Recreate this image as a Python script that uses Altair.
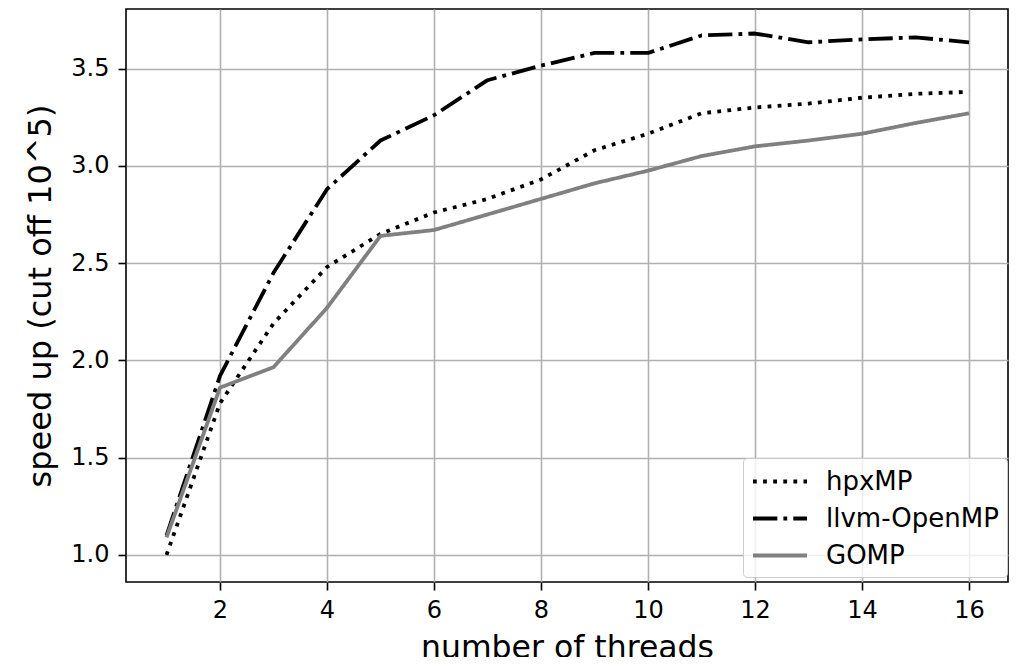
import altair as alt
import pandas as pd

threads = list(range(1, 17))
hpxmp = [1.00, 1.78, 2.19, 2.48, 2.65, 2.76, 2.83, 2.93, 3.08, 3.165, 3.27, 3.30, 3.32, 3.35, 3.37, 3.38]
llvm = [1.10, 1.92, 2.45, 2.88, 3.13, 3.26, 3.44, 3.515, 3.58, 3.58, 3.67, 3.68, 3.635, 3.65, 3.66, 3.635]
gomp = [1.09, 1.86, 1.965, 2.27, 2.64, 2.67, 2.75, 2.83, 2.91, 2.975, 3.05, 3.10, 3.13, 3.165, 3.22, 3.27]

series_names = ["hpxMP", "llvm-OpenMP", "GOMP"]
series_colors = ["#000000", "#000000", "#808080"]
series_dashes = [[3.8, 6.3], [24.3, 6.1, 3.8, 6.1], [1, 0]]

x_ticks = [2, 4, 6, 8, 10, 12, 14, 16]
y_ticks = [1.0, 1.5, 2.0, 2.5, 3.0, 3.5]

rows = []
for name, vals in zip(series_names, [hpxmp, llvm, gomp]):
    for i, (t, v) in enumerate(zip(threads, vals)):
        rows.append({"threads": t, "speedup": v, "impl": name, "order": i})
df = pd.DataFrame(rows)

FONT = "DejaVu Sans"

chart = alt.Chart(df).mark_line(strokeWidth=3.8, strokeCap="butt", strokeJoin="round").encode(
    x=alt.X("threads:Q",
            scale=alt.Scale(domain=[0.243, 16.729], nice=False, zero=False),
            axis=alt.Axis(values=x_ticks, title="number of threads", format="d",
                          titlePadding=10, labelPadding=8, titleFontSize=31.5)),
    y=alt.Y("speedup:Q",
            scale=alt.Scale(domain=[0.861, 3.806], nice=False, zero=False),
            axis=alt.Axis(values=y_ticks, title="speed up (cut off 10^5)", format=".1f",
                          titlePadding=13, labelPadding=9, titleFontSize=32)),
    color=alt.Color("impl:N",
                    scale=alt.Scale(domain=series_names, range=series_colors),
                    sort=series_names,
                    legend=alt.Legend(title=None, orient="none", legendX=617, legendY=449,
                                      symbolType="M-1,0H3", symbolSize=729,
                                      symbolStrokeWidth=4, labelOffset=44,
                                      rowPadding=8, padding=8, labelLimit=400,
                                      fillColor="rgba(255,255,255,0.8)",
                                      strokeColor="#cccccc", cornerRadius=4,
                                      labelFontSize=26, labelFont=FONT,
                                      labelColor="#000000")),
    strokeDash=alt.StrokeDash("impl:N",
                              scale=alt.Scale(domain=series_names, range=series_dashes),
                              sort=series_names, legend=None),
    order="order:Q",
    detail="impl:N",
).properties(
    width=882,
    height=573,
    padding={"left": 118, "top": 1, "right": 1, "bottom": 75},
    autosize=alt.AutoSizeParams(type="none"),
).configure_view(
    stroke="#000000", strokeWidth=1.6
).configure_axis(
    domain=False,
    grid=True,
    gridColor="#b0b0b0",
    gridWidth=1.6,
    tickColor="#000000",
    tickWidth=1.6,
    tickSize=8,
    labelFont=FONT,
    labelFontSize=24,
    labelColor="#000000",
    titleFont=FONT,
    titleFontWeight="normal",
    titleColor="#000000",
)

chart.save("out.html", embed_options={"renderer": "svg", "actions": False})
